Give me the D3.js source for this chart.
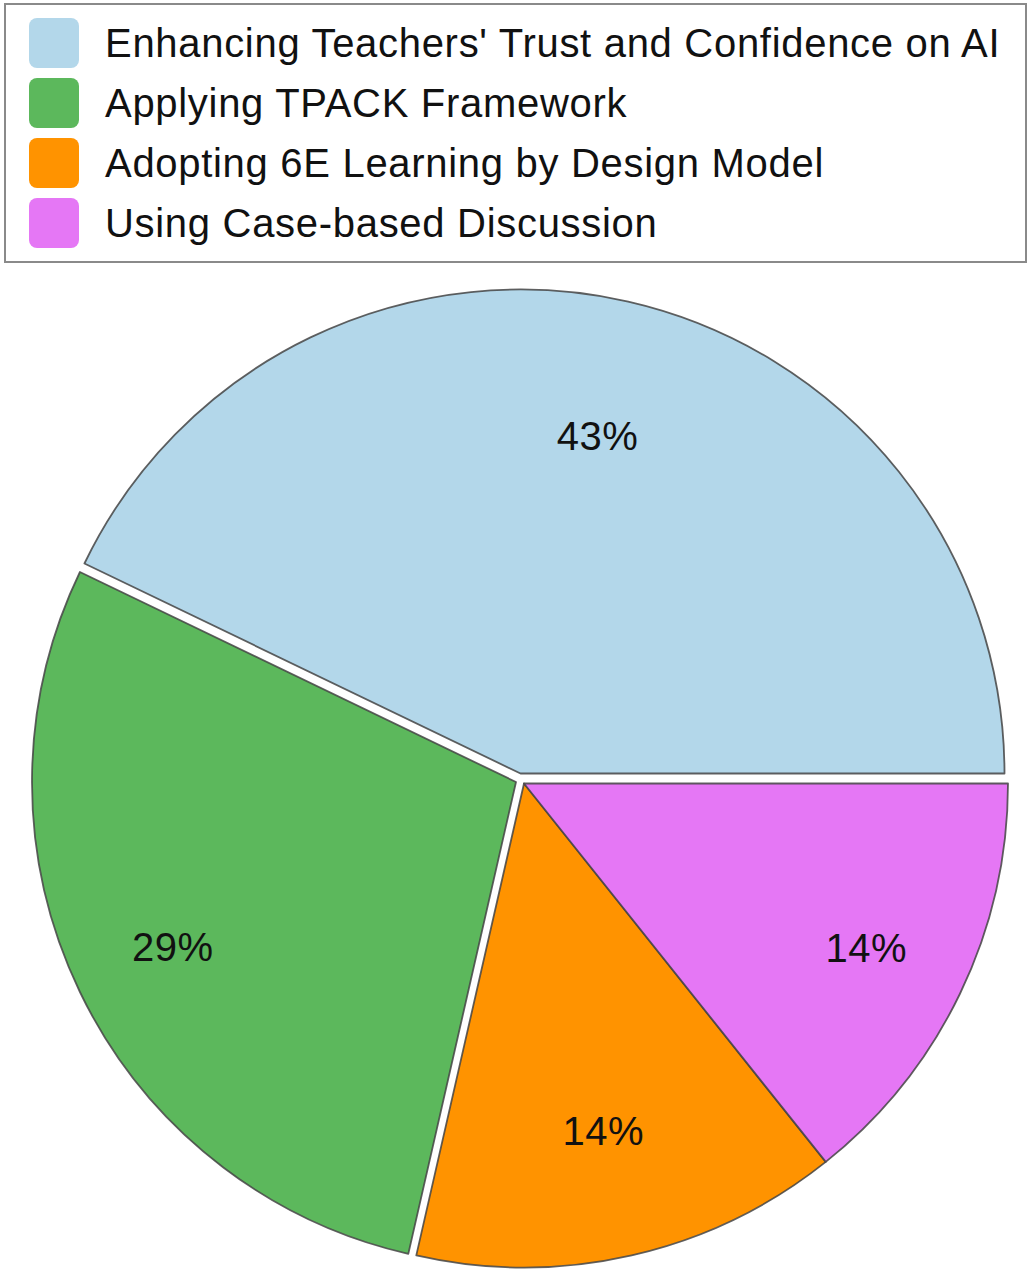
<!DOCTYPE html>
<html>
<head>
<meta charset="utf-8">
<script src="https://cdn.jsdelivr.net/npm/d3@7"></script>
<style>
  body { margin: 0; background: #fff; }
  svg { display: block; font-family: "Liberation Sans", Arial, Helvetica, sans-serif; }
</style>
</head>
<body>
<div id="chart"></div>
<script>
// Pie chart data
const categories = [
  "Enhancing Teachers' Trust and Confidence on AI",
  "Applying TPACK Framework",
  "Adopting 6E Learning by Design Model",
  "Using Case-based Discussion"
]
const counts = [3, 2, 1, 1]
const colors = ["#b3d7ea", "#5cb85c", "#ff9300", "#e577f5"]

const w = 1033
const h = 1276
const radius = 484
const cx = 524
const cy = 783.5

// how far each slice is pulled out, and where its label sits (fraction of radius)
const pull = [[-3.5, -10], [-8, -1.5], [0, 0], [0, 0]]
const labelPos = [0.716, 0.787, 0.736, 0.785]

const svg = d3.select("#chart")
              .append("svg")
              .attr("width", w)
              .attr("height", h)

// Legend box
const legend = svg.append("g").attr("id", "legend")
legend.append("rect")
  .attr("x", 5)
  .attr("y", 4)
  .attr("width", 1021)
  .attr("height", 258)
  .attr("fill", "#fff")
  .attr("stroke", "#8a8a8a")
  .attr("stroke-width", 2)

const rowY = d3.scaleBand()
               .domain(categories)
               .range([13, 253])

const rows = legend.selectAll("g.row")
  .data(categories)
  .enter()
  .append("g")
    .attr("class", "row")
    .attr("transform", d => `translate(0, ${rowY(d) + rowY.bandwidth() / 2})`)

rows.append("rect")
  .attr("x", 29)
  .attr("y", -25)
  .attr("width", 50)
  .attr("height", 50)
  .attr("rx", 8)
  .attr("fill", (d, i) => colors[i])

rows.append("text")
  .attr("x", 105)
  .attr("y", 14)
  .style("font-size", "40px")
  .style("letter-spacing", "0.7px")
  .attr("fill", "#111")
  .text(d => d)

// Pie, starting at 3 o'clock and going counter-clockwise
const pie = d3.pie()
              .sort(null)
              .startAngle(Math.PI / 2)
              .endAngle(Math.PI / 2 - 2 * Math.PI)
const arcs = pie(counts)
const arc = d3.arc().innerRadius(0).outerRadius(radius)
const total = d3.sum(counts)

const slices = svg.append("g")
  .attr("transform", `translate(${cx}, ${cy})`)
  .selectAll("g.slice")
  .data(arcs)
  .enter()
  .append("g")
    .attr("class", "slice")
    .attr("transform", (d, i) => `translate(${pull[i][0]}, ${pull[i][1]})`)

slices.append("path")
  .attr("d", arc)
  .attr("fill", (d, i) => colors[i])
  .attr("stroke", "#444")
  .attr("stroke-opacity", 0.85)
  .attr("stroke-width", 1.8)
  .attr("stroke-linejoin", "round")

slices.append("text")
  .attr("x", (d, i) => {
    const a = (d.startAngle + d.endAngle) / 2
    return Math.sin(a) * radius * labelPos[i]
  })
  .attr("y", (d, i) => {
    const a = (d.startAngle + d.endAngle) / 2
    return -Math.cos(a) * radius * labelPos[i] + 14
  })
  .attr("text-anchor", "middle")
  .style("font-size", "40px")
  .style("letter-spacing", "0.5px")
  .attr("fill", "#111")
  .text(d => `${Math.round(d.value / total * 100)}%`)
</script>
</body>
</html>
